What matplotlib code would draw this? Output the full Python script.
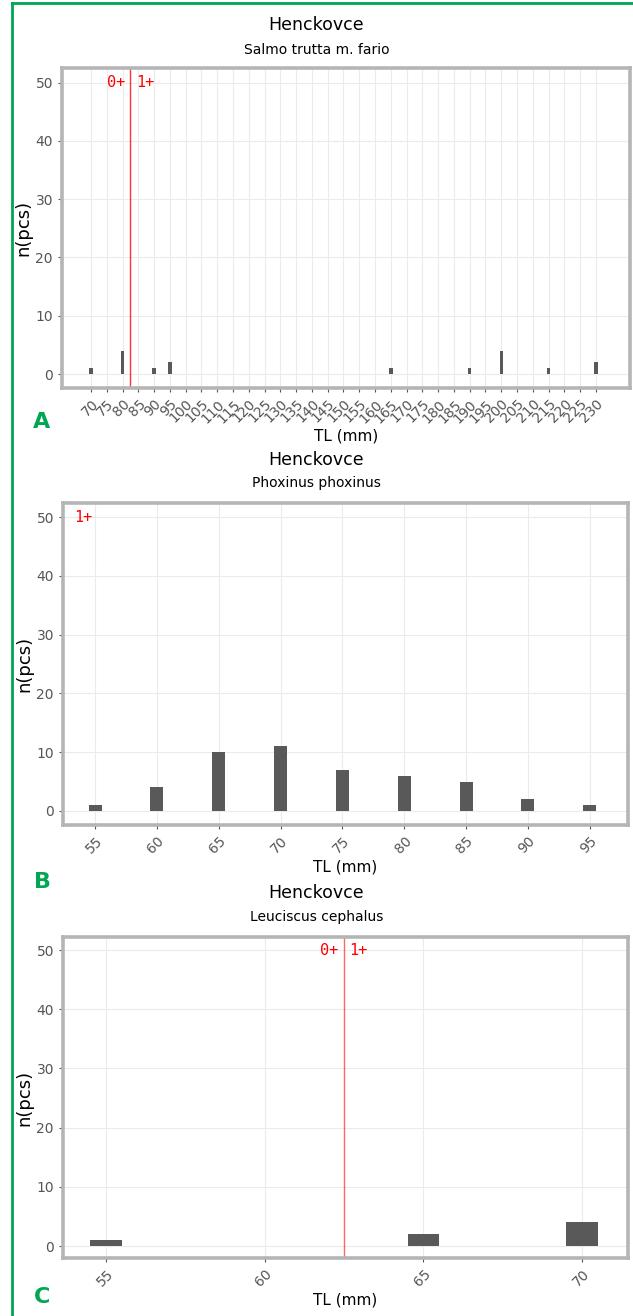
import matplotlib.pyplot as plt
import numpy as np

# panel A - Salmo trutta m. fario
a_ticks = list(range(70, 235, 5))
a_tl = [70, 80, 90, 95, 165, 190, 200, 215, 230]
a_n = [1, 4, 1, 2, 1, 1, 4, 1, 2]

# panel B - Phoxinus phoxinus
b_tl = [55, 60, 65, 70, 75, 80, 85, 90, 95]
b_n = [1, 4, 10, 11, 7, 6, 5, 2, 1]

# panel C - Leuciscus cephalus
c_tl = [55, 60, 65, 70]
c_n = [1, 0, 2, 4]

site = "Henckovce"
species = ["Salmo trutta m. fario", "Phoxinus phoxinus", "Leuciscus cephalus"]
letters = ["A", "B", "C"]

bar_col = "#595959"
grid_col = "#ebebeb"
border_col = "#b5b5b5"
green = "#00a651"

fig = plt.figure(figsize=(6.33, 13.16), dpi=100)
W, H = 633, 1316


def px_axes(l, t, r, b):
    return fig.add_axes([l / W, 1 - b / H, (r - l) / W, (b - t) / H])


def style(ax, ticks, xlim, ylim):
    ax.set_xlim(*xlim)
    ax.set_ylim(*ylim)
    ax.set_xticks(ticks)
    ax.set_yticks([0, 10, 20, 30, 40, 50])
    ax.grid(True, color=grid_col, lw=0.8)
    ax.set_axisbelow(True)
    for s in ax.spines.values():
        s.set_color(border_col)
        s.set_linewidth(2.6)
    ax.tick_params(colors="#555555", labelsize=10, length=3, width=0.8)
    for lab in ax.get_xticklabels():
        lab.set_rotation(45)
        lab.set_ha("right")
        lab.set_rotation_mode("anchor")
    ax.set_xlabel("TL (mm)", fontsize=11, labelpad=2)
    ax.set_ylabel("n(pcs)", fontsize=13, labelpad=2)


def age_text(ax, x, txt, side):
    off = -4 if side == "left" else 4
    ha = "right" if side == "left" else "left"
    ax.annotate(txt, xy=(x, 50), xytext=(off, 0), textcoords="offset points",
                ha=ha, va="center", color="red", fontsize=11,
                family="DejaVu Sans Mono")


# A
axA = px_axes(62, 68, 630, 388)
axA.bar(a_tl, a_n, width=1.1, color=bar_col)
style(axA, a_ticks, (60.8, 240.8), (-2.4, 52.5))
axA.axvline(82.5, color="red", lw=1, alpha=0.8)
age_text(axA, 82.5, "0+", "left")
age_text(axA, 82.5, "1+", "right")

# B
axB = px_axes(63, 503, 628, 825)
axB.bar(b_tl, b_n, width=1.05, color=bar_col)
style(axB, b_tl, (52.4, 98.1), (-2.4, 52.4))
axB.annotate("1+", xy=(53.3, 50), ha="left", va="center", color="red",
             fontsize=11, family="DejaVu Sans Mono")

# C
axC = px_axes(63, 937, 628, 1258)
axC.bar(c_tl, c_n, width=1.0, color=bar_col)
style(axC, c_tl, (53.64, 71.45), (-2.0, 52.2))
axC.axvline(62.5, color="red", lw=1, alpha=0.6)
age_text(axC, 62.5, "0+", "left")
age_text(axC, 62.5, "1+", "right")

# titles
for ty, sy, sp in [(25, 50, species[0]), (460, 483, species[1]), (893, 917, species[2])]:
    fig.text(0.5, 1 - ty / H, site, ha="center", va="center", fontsize=12.5)
    fig.text(0.5, 1 - sy / H, sp, ha="center", va="center", fontsize=10)

# panel letters
for ly, let in [(422, "A"), (882, "B"), (1297, "C")]:
    fig.text(42 / W, 1 - ly / H, let, ha="center", va="center", fontsize=16,
             fontweight="bold", color=green)

# green frame (top and left edges)
fig.add_artist(plt.Line2D([12 / W, 1], [1 - 3 / H, 1 - 3 / H], color=green, lw=2))
fig.add_artist(plt.Line2D([12 / W, 12 / W], [0, 1 - 3 / H], color=green, lw=2))

fig.savefig("out.png", dpi=100)
